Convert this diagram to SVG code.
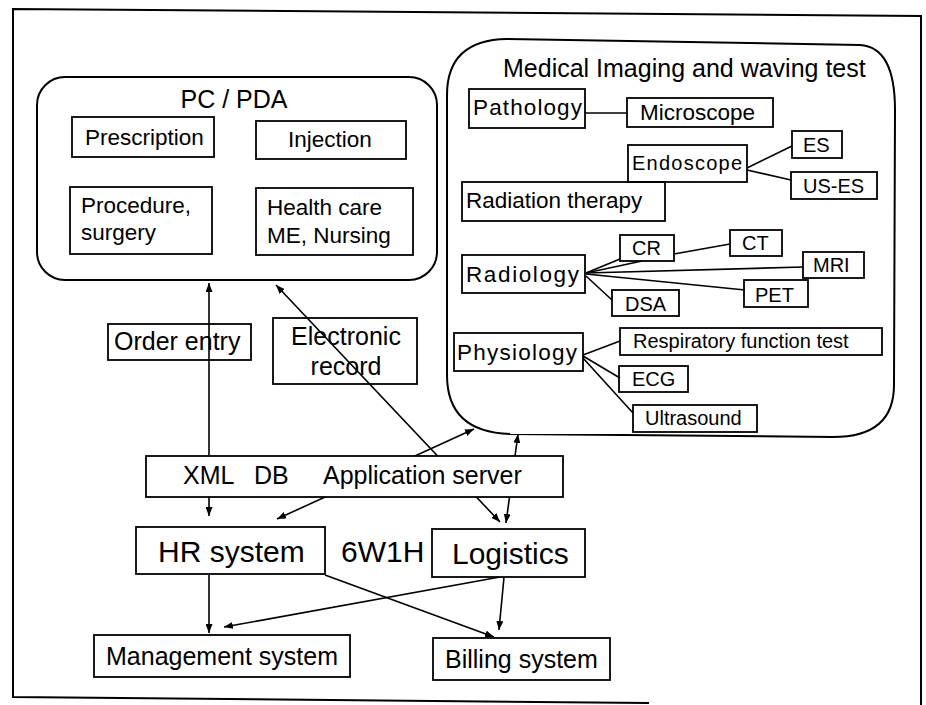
<svg xmlns="http://www.w3.org/2000/svg" width="926" height="705" viewBox="0 0 926 705">
<style>
text{font-family:"Liberation Sans",Arial,sans-serif;fill:#000}
.box{fill:none;stroke:#000;stroke-width:1.8}
.wbox{fill:#fff;stroke:#000;stroke-width:1.8}
.cont{fill:none;stroke:#000;stroke-width:2}
.ln{fill:none;stroke:#000;stroke-width:1.6}
.f20{font-size:20px}.f22{font-size:22.5px}.f25{font-size:25px}.f30{font-size:30px}
</style>
<defs>
<marker id="ah" markerUnits="userSpaceOnUse" markerWidth="9" markerHeight="7" refX="9" refY="3.5" orient="auto-start-reverse" viewBox="0 0 9 7">
<path d="M0,0 L9,3.5 L0,7 z" fill="#000"/>
</marker>
</defs>
<rect width="926" height="705" fill="#fff"/>
<path class="cont" d="M649,703 L13,697 L13,9 L921,16 L921,705"/>

<g id="pcpda">
<rect class="cont" x="37" y="77" width="400" height="203" rx="28"/>
<text class="f25" x="234" y="108" text-anchor="middle">PC / PDA</text>
</g>
<g id="imaging">
<path class="cont" d="M507,39 L860,45 Q895,47 895,110 L894,385 Q894,437 833,437 L510,434 Q447,432 447,375 L447,95 Q447,40 507,39 Z"/>
<text class="f25" x="503" y="77">Medical Imaging and waving test</text>
</g>

<g id="connectors">
<line class="ln" x1="209" y1="455" x2="209" y2="283" marker-end="url(#ah)"/>
<line class="ln" x1="276" y1="285" x2="500" y2="522" marker-start="url(#ah)" marker-end="url(#ah)"/>
<line class="ln" x1="209" y1="497" x2="209" y2="516" marker-end="url(#ah)"/>
<line class="ln" x1="277" y1="519" x2="474" y2="429" marker-start="url(#ah)" marker-end="url(#ah)"/>
<line class="ln" x1="518" y1="434" x2="506" y2="523" marker-start="url(#ah)" marker-end="url(#ah)"/>
<line class="ln" x1="209" y1="575" x2="209" y2="633" marker-end="url(#ah)"/>
<line class="ln" x1="500" y1="577" x2="224" y2="627" marker-end="url(#ah)"/>
<line class="ln" x1="325" y1="575" x2="494" y2="637" marker-end="url(#ah)"/>
<line class="ln" x1="504" y1="577" x2="499" y2="630" marker-end="url(#ah)"/>
<line class="ln" x1="585" y1="113" x2="627" y2="113"/>
<line class="ln" x1="747" y1="168" x2="792" y2="146"/>
<line class="ln" x1="747" y1="170" x2="791" y2="180"/>
<line class="ln" x1="586" y1="273" x2="620" y2="259"/>
<line class="ln" x1="586" y1="273" x2="642" y2="261"/>
<line class="ln" x1="674" y1="254" x2="730" y2="244"/>
<line class="ln" x1="586" y1="273" x2="803" y2="267"/>
<line class="ln" x1="586" y1="274" x2="745" y2="290"/>
<line class="ln" x1="586" y1="276" x2="612" y2="300"/>
<line class="ln" x1="583" y1="355" x2="620" y2="341"/>
<line class="ln" x1="583" y1="356" x2="620" y2="378"/>
<line class="ln" x1="583" y1="358" x2="633" y2="413"/>
</g>

<g id="prescription"><rect class="box" x="72" y="117" width="142" height="40"/><text class="f22" x="85" y="145">Prescription</text></g>
<g id="injection"><rect class="box" x="256" y="121" width="150" height="38"/><text class="f22" x="288" y="147">Injection</text></g>
<g id="procedure"><rect class="box" x="70" y="187" width="142" height="67"/><text class="f22" x="81" y="213">Procedure,</text><text class="f22" x="81" y="240">surgery</text></g>
<g id="healthcare"><rect class="box" x="256" y="188" width="157" height="67"/><text class="f22" x="267" y="215">Health care</text><text class="f22" x="267" y="243">ME, Nursing</text></g>

<g id="pathology"><rect class="box" x="469" y="89" width="116" height="39"/><text class="f22" x="473" y="115" textLength="109" lengthAdjust="spacing">Pathology</text></g>
<g id="microscope"><rect class="box" x="627" y="98" width="146" height="29"/><text class="f22" x="640" y="120">Microscope</text></g>
<g id="endoscope"><rect class="box" x="628" y="145" width="119" height="37"/><text class="f20" x="632" y="170" textLength="110" lengthAdjust="spacing">Endoscope</text></g>
<g id="es"><rect class="box" x="792" y="131" width="50" height="27"/><text class="f20" x="803" y="152">ES</text></g>
<g id="uses"><rect class="box" x="791" y="172" width="86" height="27"/><text class="f20" x="803" y="193">US-ES</text></g>
<g id="radiation"><rect class="box" x="462" y="182" width="203" height="39"/><text class="f22" x="466" y="208">Radiation therapy</text></g>
<g id="radiology"><rect class="box" x="462" y="255" width="123" height="38"/><text class="f22" x="466" y="282" textLength="113" lengthAdjust="spacing">Radiology</text></g>
<g id="cr"><rect class="box" x="620" y="235" width="54" height="26"/><text class="f20" x="632" y="255">CR</text></g>
<g id="ct"><rect class="box" x="730" y="230" width="52" height="26"/><text class="f20" x="742" y="250">CT</text></g>
<g id="mri"><rect class="box" x="803" y="252" width="61" height="26"/><text class="f20" x="813" y="272">MRI</text></g>
<g id="pet"><rect class="box" x="744" y="280" width="64" height="27"/><text class="f20" x="755" y="302">PET</text></g>
<g id="dsa"><rect class="box" x="612" y="290" width="67" height="26"/><text class="f20" x="625" y="311">DSA</text></g>
<g id="physiology"><rect class="box" x="454" y="333" width="129" height="38"/><text class="f22" x="457" y="360" textLength="120" lengthAdjust="spacing">Physiology</text></g>
<g id="respiratory"><rect class="box" x="620" y="328" width="262" height="27"/><text class="f20" x="633" y="348">Respiratory function test</text></g>
<g id="ecg"><rect class="box" x="619" y="366" width="69" height="26"/><text class="f20" x="632" y="386">ECG</text></g>
<g id="ultrasound"><rect class="box" x="633" y="405" width="124" height="27"/><text class="f20" x="645" y="425">Ultrasound</text></g>

<g id="orderentry"><rect class="box" x="108" y="324" width="143" height="36"/><text class="f25" x="114" y="350">Order entry</text></g>
<g id="electronic"><rect class="box" x="273" y="318" width="144" height="66"/><text class="f25" x="346" y="345" text-anchor="middle">Electronic</text><text class="f25" x="346" y="375" text-anchor="middle">record</text></g>
<g id="appserver"><rect class="wbox" x="146" y="456" width="417" height="41"/><text class="f25" y="484"><tspan x="183">XML</tspan><tspan x="254">DB</tspan><tspan x="323">Application server</tspan></text></g>
<g id="hr"><rect class="box" x="136" y="527" width="189" height="47"/><text class="f30" x="158" y="562">HR system</text></g>
<g id="sixw"><text class="f30" x="341" y="562">6W1H</text></g>
<g id="logistics"><rect class="box" x="432" y="529" width="153" height="48"/><text class="f30" x="452" y="564">Logistics</text></g>
<g id="management"><rect class="box" x="94" y="635" width="256" height="42"/><text class="f25" x="106" y="665">Management system</text></g>
<g id="billing"><rect class="box" x="433" y="638" width="177" height="42"/><text class="f25" x="445" y="668">Billing system</text></g>
</svg>
